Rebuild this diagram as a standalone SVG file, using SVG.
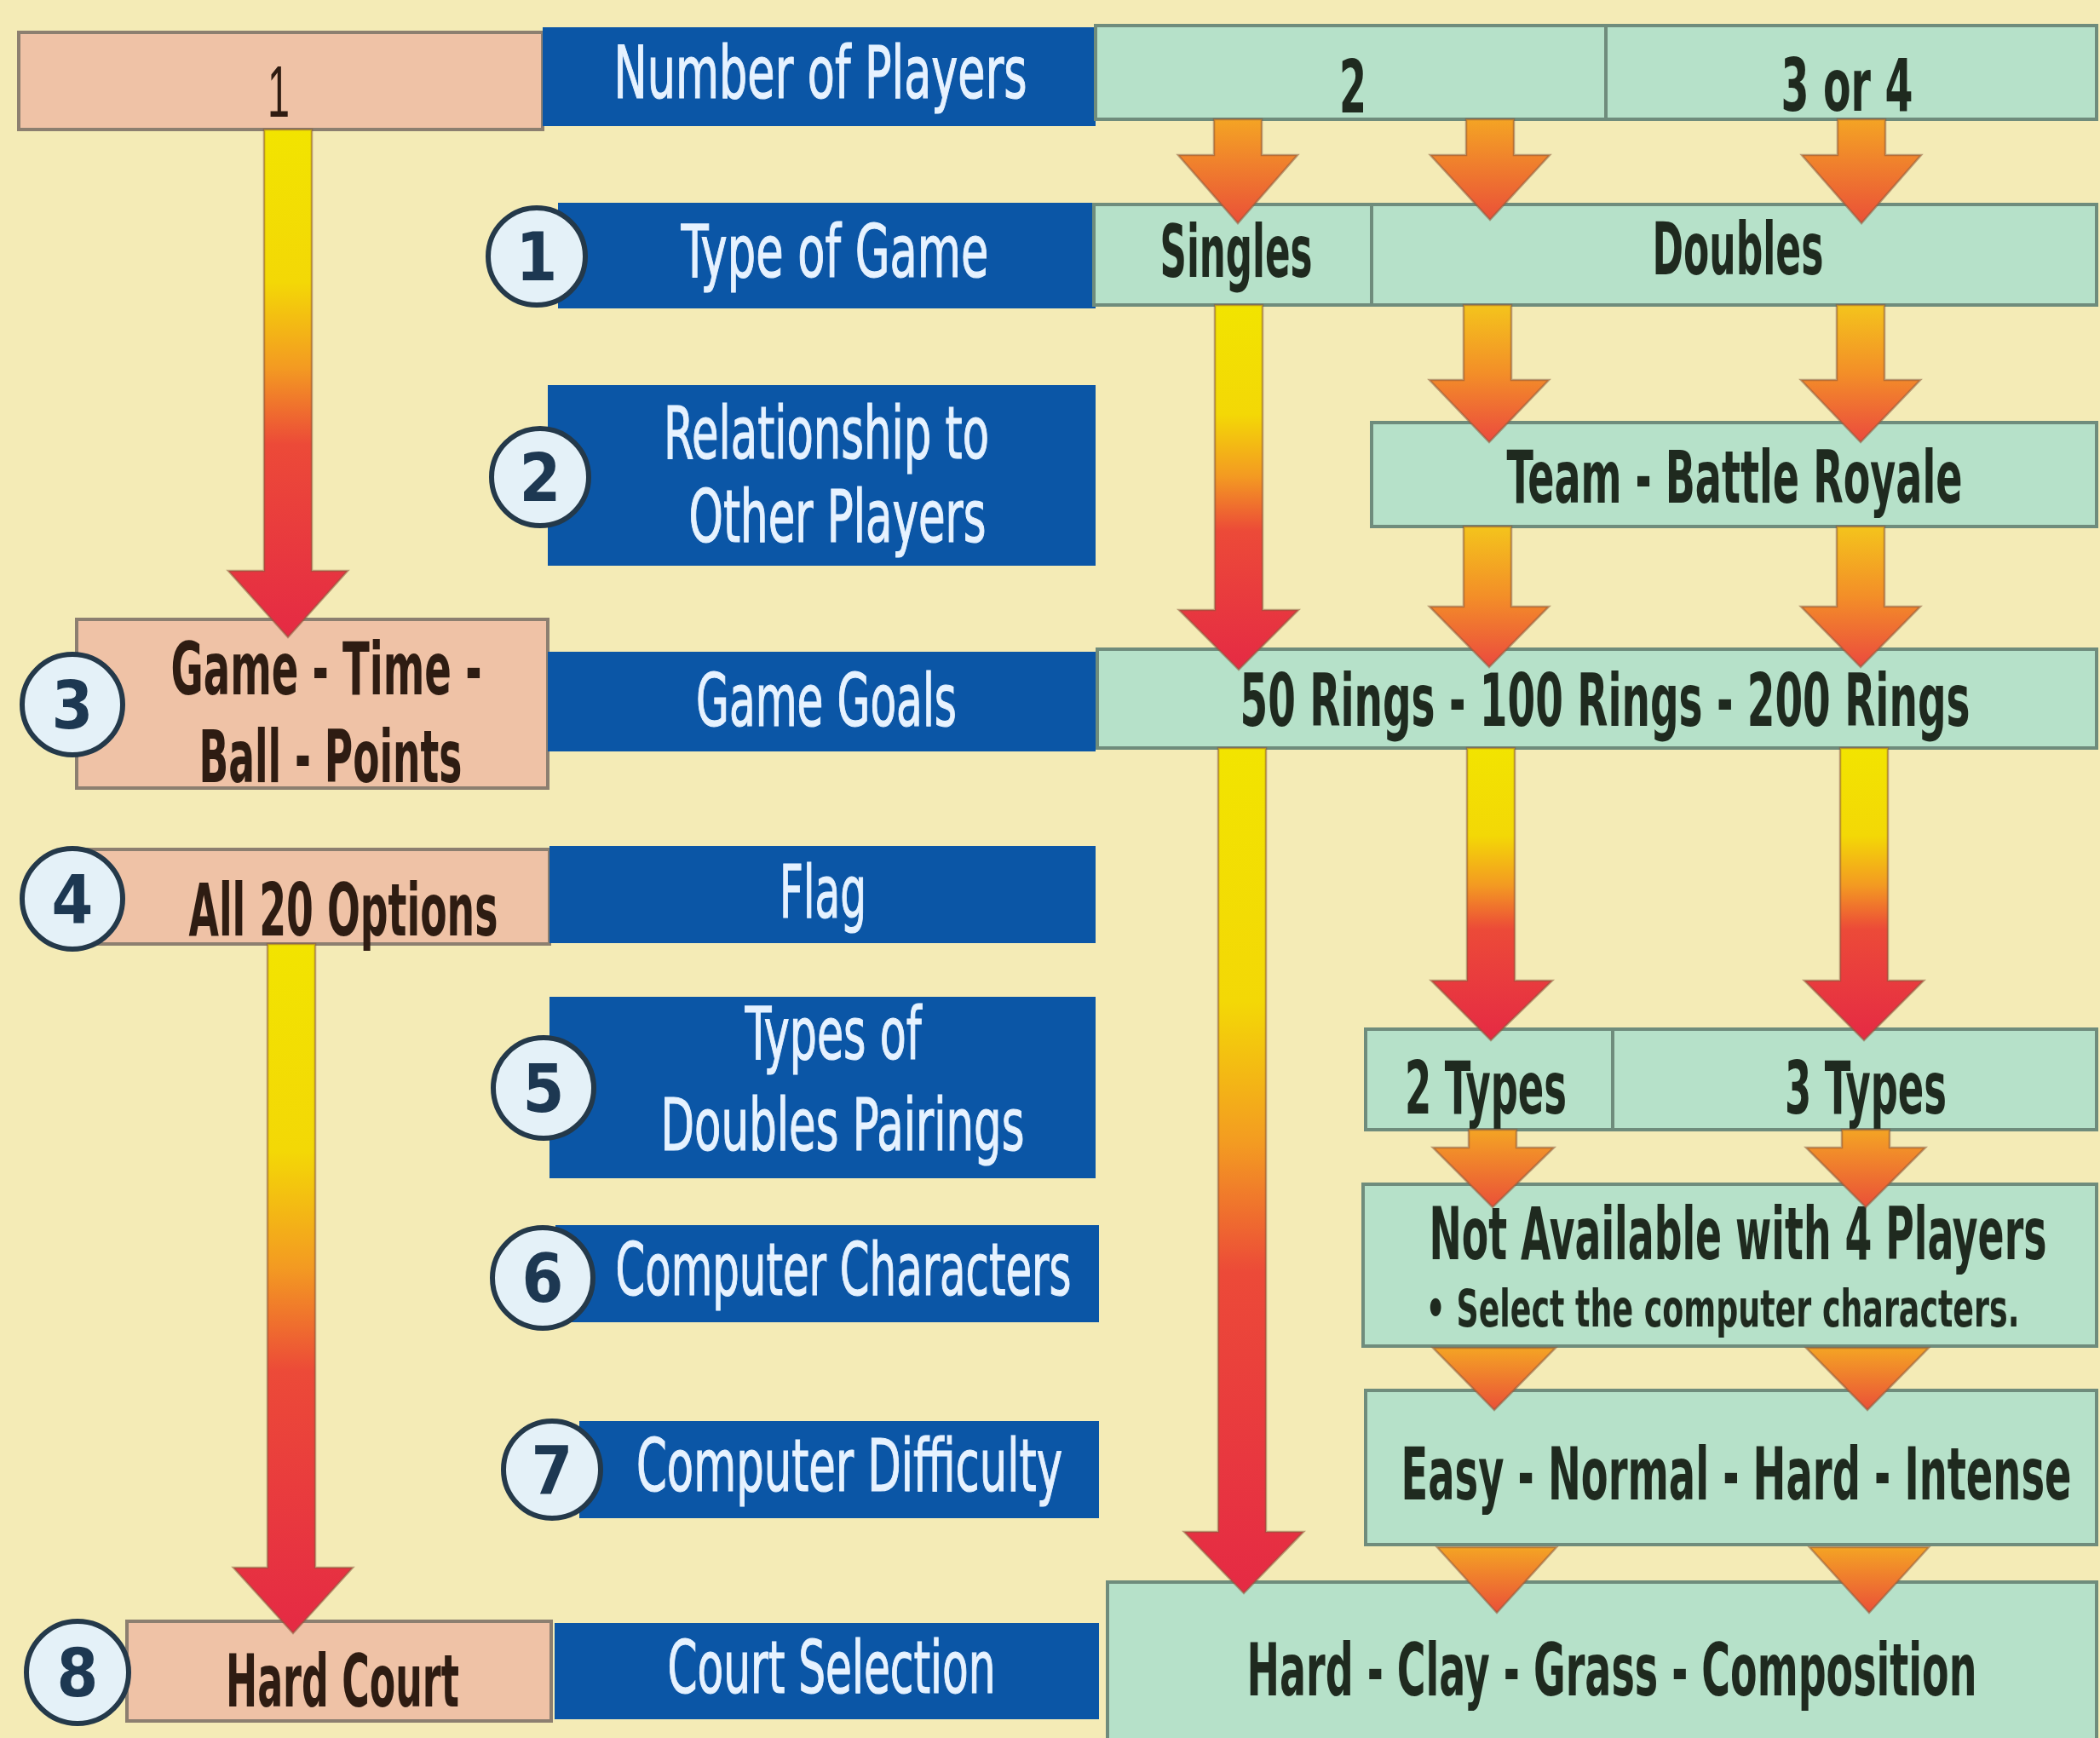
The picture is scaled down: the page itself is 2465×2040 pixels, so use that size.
<svg xmlns="http://www.w3.org/2000/svg" width="2465" height="2040" viewBox="0 0 2465 2040">
<style>
.bg{fill:#f4ebb6}
.blue{fill:#0b56a6}
.green{fill:#b6e1c9;stroke:#6f8c7c;stroke-width:4}
.pink{fill:#efc2a6;stroke:#8c7f70;stroke-width:4}
.num{fill:#e4f1f8;stroke:#24394a;stroke-width:6}
.numt{font-family:"DejaVu Sans Condensed","Liberation Sans Narrow","DejaVu Sans",sans-serif;font-weight:bold;font-size:78px;fill:#1d3852;text-anchor:middle}
.wt{font-family:"DejaVu Sans Condensed","Liberation Sans Narrow","DejaVu Sans",sans-serif;font-size:85px;fill:#e6f2ff;stroke:#e6f2ff;stroke-width:1.2;text-anchor:middle}
.dk{font-family:"DejaVu Sans Condensed","Liberation Sans Narrow","DejaVu Sans",sans-serif;font-weight:bold;font-size:85px;fill:#1f2a1f;text-anchor:middle}
.dkp{font-family:"DejaVu Sans Condensed","Liberation Sans Narrow","DejaVu Sans",sans-serif;font-weight:bold;font-size:85px;fill:#2e1c12;text-anchor:middle}
.one{font-family:"Liberation Sans",Arial,sans-serif;font-size:85px;fill:#2e1c12;text-anchor:middle}
.small{font-size:60px}
.arr{stroke:#8a5a3c;stroke-opacity:0.55;stroke-width:2.5;stroke-linejoin:miter}
</style>
<defs>
<linearGradient id="gLong" x1="0" y1="0" x2="0" y2="1">
<stop offset="0" stop-color="#f2e400"/>
<stop offset="0.3" stop-color="#f3d806"/>
<stop offset="0.47" stop-color="#f39a22"/>
<stop offset="0.62" stop-color="#ec4a38"/>
<stop offset="1" stop-color="#e52a44"/>
</linearGradient>
<linearGradient id="gMid" x1="0" y1="0" x2="0" y2="1">
<stop offset="0" stop-color="#f4c41c"/>
<stop offset="0.5" stop-color="#f38e28"/>
<stop offset="1" stop-color="#eb4a3e"/>
</linearGradient>
<linearGradient id="gShort" x1="0" y1="0" x2="0" y2="1">
<stop offset="0" stop-color="#f4a424"/>
<stop offset="1" stop-color="#ea5038"/>
</linearGradient>
</defs>
<rect class="bg" x="0" y="0" width="2465" height="2040"/>

<!-- Row 0 -->
<g id="players-1"><rect class="pink" x="22" y="38" width="615" height="114"/><text class="one" x="327" y="137" textLength="26" lengthAdjust="spacingAndGlyphs">1</text></g>
<g id="number-of-players"><rect class="blue" x="637" y="32" width="649" height="116"/><text class="wt" x="963" y="115" textLength="485" lengthAdjust="spacingAndGlyphs">Number of Players</text></g>
<g id="players-2"><rect class="green" x="1286" y="30" width="599" height="110"/><text class="dk" x="1588" y="132" textLength="32" lengthAdjust="spacingAndGlyphs">2</text></g>
<g id="players-3or4"><rect class="green" x="1885" y="30" width="576" height="110"/><text class="dk" x="2168" y="130" textLength="155" lengthAdjust="spacingAndGlyphs">3 or 4</text></g>

<!-- Row 1 -->
<g id="type-of-game"><rect class="blue" x="655" y="238" width="631" height="124"/><text class="wt" x="980" y="325" textLength="361" lengthAdjust="spacingAndGlyphs">Type of Game</text></g>
<g id="singles"><rect class="green" x="1284" y="240" width="326" height="118"/><text class="dk" x="1451" y="325" textLength="179" lengthAdjust="spacingAndGlyphs">Singles</text></g>
<g id="doubles"><rect class="green" x="1610" y="240" width="851" height="118"/><text class="dk" x="2040" y="322" textLength="201" lengthAdjust="spacingAndGlyphs">Doubles</text></g>

<!-- Row 2 -->
<g id="relationship"><rect class="blue" x="643" y="452" width="643" height="212"/><text class="wt" x="970" y="538" textLength="382" lengthAdjust="spacingAndGlyphs">Relationship to</text><text class="wt" x="983" y="636" textLength="349" lengthAdjust="spacingAndGlyphs">Other Players</text></g>
<g id="team-battle-royale"><rect class="green" x="1610" y="496" width="851" height="122"/><text class="dk" x="2036" y="590" textLength="535" lengthAdjust="spacingAndGlyphs">Team - Battle Royale</text></g>

<!-- Row 3 -->
<g id="game-time-ball-points"><rect class="pink" x="90" y="727" width="553" height="198"/><text class="dkp" x="383" y="815" textLength="365" lengthAdjust="spacingAndGlyphs">Game - Time -</text><text class="dkp" x="388" y="918" textLength="309" lengthAdjust="spacingAndGlyphs">Ball - Points</text></g>
<g id="game-goals"><rect class="blue" x="643" y="765" width="643" height="117"/><text class="wt" x="970" y="852" textLength="306" lengthAdjust="spacingAndGlyphs">Game Goals</text></g>
<g id="rings"><rect class="green" x="1288" y="762" width="1173" height="116"/><text class="dk" x="1884" y="852" textLength="857" lengthAdjust="spacingAndGlyphs">50 Rings - 100 Rings - 200 Rings</text></g>

<!-- Row 4 -->
<g id="all-20-options"><rect class="pink" x="94" y="997" width="551" height="111"/><text class="dkp" x="403" y="1098" textLength="363" lengthAdjust="spacingAndGlyphs">All 20 Options</text></g>
<g id="flag"><rect class="blue" x="645" y="993" width="641" height="114"/><text class="wt" x="966" y="1077" textLength="102" lengthAdjust="spacingAndGlyphs">Flag</text></g>

<!-- Row 5 -->
<g id="doubles-pairings"><rect class="blue" x="645" y="1170" width="641" height="213"/><text class="wt" x="978" y="1243" textLength="207" lengthAdjust="spacingAndGlyphs">Types of</text><text class="wt" x="989" y="1350" textLength="427" lengthAdjust="spacingAndGlyphs">Doubles Pairings</text></g>
<g id="two-types"><rect class="green" x="1603" y="1208" width="290" height="118"/><text class="dk" x="1744" y="1307" textLength="190" lengthAdjust="spacingAndGlyphs">2 Types</text></g>
<g id="three-types"><rect class="green" x="1893" y="1208" width="568" height="118"/><text class="dk" x="2190" y="1307" textLength="190" lengthAdjust="spacingAndGlyphs">3 Types</text></g>

<!-- Row 6 -->
<g id="computer-characters"><rect class="blue" x="652" y="1438" width="638" height="114"/><text class="wt" x="990" y="1520" textLength="535" lengthAdjust="spacingAndGlyphs">Computer Characters</text></g>
<g id="not-available"><rect class="green" x="1600" y="1390" width="861" height="190"/><text class="dk" x="2040" y="1478" textLength="725" lengthAdjust="spacingAndGlyphs">Not Available with 4 Players</text><text class="dk small" x="2022" y="1557" textLength="697" lengthAdjust="spacingAndGlyphs">• Select the computer characters.</text></g>

<!-- Row 7 -->
<g id="computer-difficulty"><rect class="blue" x="680" y="1668" width="610" height="114"/><text class="wt" x="997" y="1750" textLength="500" lengthAdjust="spacingAndGlyphs">Computer Difficulty</text></g>
<g id="difficulty-levels"><rect class="green" x="1603" y="1632" width="858" height="181"/><text class="dk" x="2038" y="1760" textLength="787" lengthAdjust="spacingAndGlyphs">Easy - Normal - Hard - Intense</text></g>

<!-- Row 8 -->
<g id="hard-court"><rect class="pink" x="149" y="1903" width="498" height="117"/><text class="dkp" x="402" y="2003" textLength="274" lengthAdjust="spacingAndGlyphs">Hard Court</text></g>
<g id="court-selection"><rect class="blue" x="651" y="1905" width="639" height="113"/><text class="wt" x="976" y="1987" textLength="385" lengthAdjust="spacingAndGlyphs">Court Selection</text></g>
<g id="courts"><rect class="green" x="1300" y="1857" width="1161" height="200"/><text class="dk" x="1892" y="1990" textLength="857" lengthAdjust="spacingAndGlyphs">Hard - Clay - Grass - Composition</text></g>

<!-- Connectors -->
<g id="connectors" class="arr">
<path fill="url(#gLong)" d="M310,152 L366,152 L366,670 L408,670 L338,748 L268,670 L310,670 Z"/>
<path fill="url(#gLong)" d="M314,1108 L370,1108 L370,1840 L414,1840 L344,1917 L274,1840 L314,1840 Z"/>
<path fill="url(#gLong)" d="M1426,358 L1482,358 L1482,716 L1524,716 L1454,786 L1384,716 L1426,716 Z"/>
<path fill="url(#gLong)" d="M1430,878 L1486,878 L1486,1798 L1530,1798 L1460,1870 L1390,1798 L1430,1798 Z"/>
<path fill="url(#gShort)" d="M1425,140 L1481,140 L1481,182 L1523,182 L1453,262 L1383,182 L1425,182 Z"/>
<path fill="url(#gShort)" d="M1721,140 L1777,140 L1777,182 L1819,182 L1749,258 L1679,182 L1721,182 Z"/>
<path fill="url(#gShort)" d="M2157,140 L2213,140 L2213,182 L2255,182 L2185,262 L2115,182 L2157,182 Z"/>
<path fill="url(#gMid)" d="M1718,358 L1774,358 L1774,446 L1818,446 L1748,519 L1678,446 L1718,446 Z"/>
<path fill="url(#gMid)" d="M2156,358 L2212,358 L2212,446 L2254,446 L2184,519 L2114,446 L2156,446 Z"/>
<path fill="url(#gMid)" d="M1718,618 L1774,618 L1774,712 L1818,712 L1748,783 L1678,712 L1718,712 Z"/>
<path fill="url(#gMid)" d="M2156,618 L2212,618 L2212,712 L2254,712 L2184,783 L2114,712 L2156,712 Z"/>
<path fill="url(#gLong)" d="M1722,878 L1778,878 L1778,1151 L1822,1151 L1750,1221 L1680,1151 L1722,1151 Z"/>
<path fill="url(#gLong)" d="M2160,878 L2216,878 L2216,1151 L2258,1151 L2188,1221 L2118,1151 L2160,1151 Z"/>
<path fill="url(#gShort)" d="M1724,1326 L1780,1326 L1780,1347 L1824,1347 L1752,1417 L1682,1347 L1724,1347 Z"/>
<path fill="url(#gShort)" d="M2162,1326 L2218,1326 L2218,1347 L2260,1347 L2190,1417 L2120,1347 L2162,1347 Z"/>
<path fill="url(#gShort)" d="M1682,1582 L1826,1582 L1754,1655 Z"/>
<path fill="url(#gShort)" d="M2120,1582 L2264,1582 L2192,1655 Z"/>
<path fill="url(#gShort)" d="M1687,1816 L1827,1816 L1757,1893 Z"/>
<path fill="url(#gShort)" d="M2124,1816 L2264,1816 L2194,1893 Z"/>
</g>

<!-- Step markers -->
<g id="step-1"><circle class="num" cx="630" cy="301" r="57"/><text class="numt" x="630" y="329">1</text></g>
<g id="step-2"><circle class="num" cx="634" cy="560" r="57"/><text class="numt" x="634" y="588">2</text></g>
<g id="step-3"><circle class="num" cx="85" cy="827" r="59"/><text class="numt" x="85" y="855">3</text></g>
<g id="step-4"><circle class="num" cx="85" cy="1055" r="59"/><text class="numt" x="85" y="1083">4</text></g>
<g id="step-5"><circle class="num" cx="638" cy="1277" r="59"/><text class="numt" x="638" y="1305">5</text></g>
<g id="step-6"><circle class="num" cx="637" cy="1500" r="59"/><text class="numt" x="637" y="1528">6</text></g>
<g id="step-7"><circle class="num" cx="648" cy="1725" r="57"/><text class="numt" x="648" y="1753">7</text></g>
<g id="step-8"><circle class="num" cx="91" cy="1963" r="60"/><text class="numt" x="91" y="1991">8</text></g>
</svg>
